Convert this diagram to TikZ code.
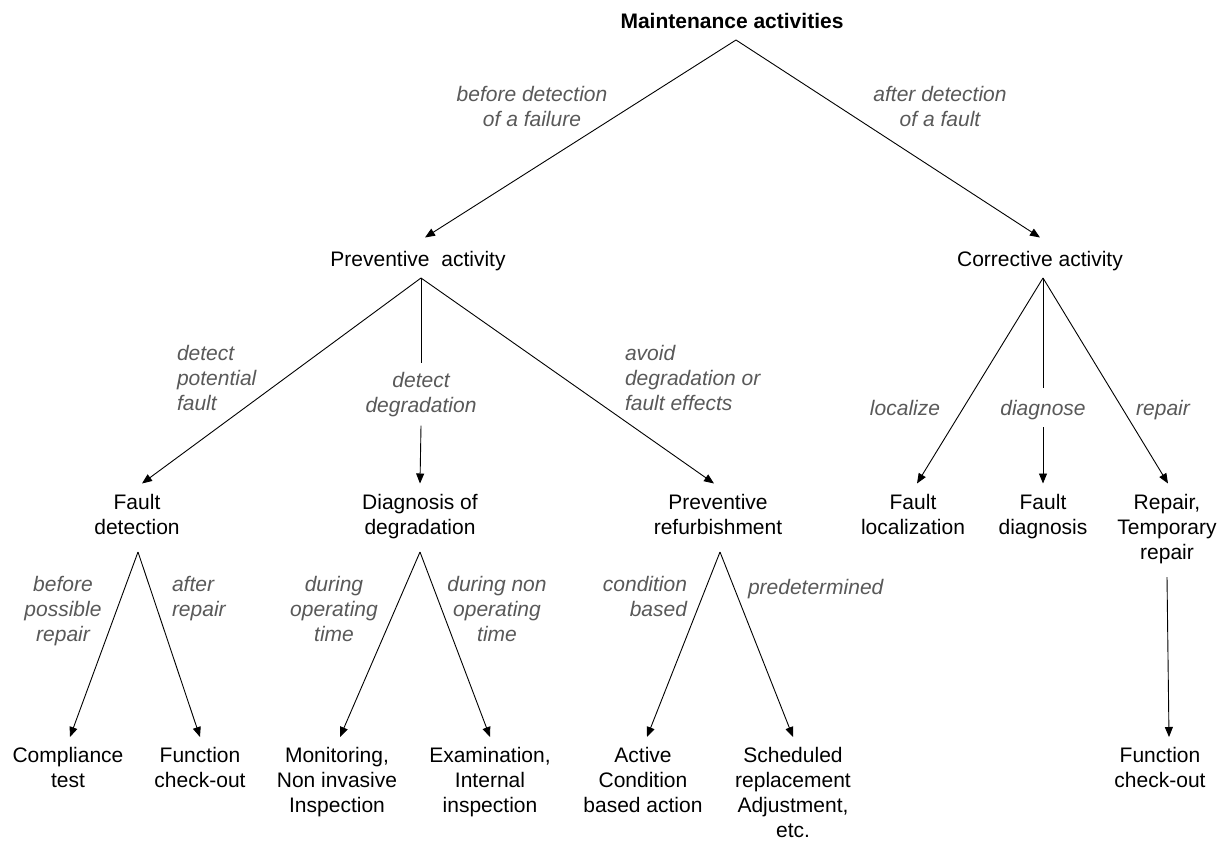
\documentclass[tikz,border=0pt]{standalone}
\usepackage{fontspec}
\setmainfont{Liberation Sans}
\usetikzlibrary{arrows.meta,calc}
\definecolor{lbl}{HTML}{595959}
\begin{document}
\begin{tikzpicture}[x=1pt,y=-1pt,
  every node/.style={inner sep=0pt, outer sep=0pt, align=center,
    execute at begin node=\strut, execute at end node=\strut},
  box/.style={anchor=north, text=black, font=\fontsize{21}{25}\selectfont},
  title/.style={anchor=north, text=black, font=\fontsize{21}{25}\selectfont\bfseries},
  lab/.style={anchor=north, text=lbl, font=\fontsize{21}{25}\selectfont\itshape},
  labl/.style={lab, anchor=north west, align=left},
  labr/.style={lab, anchor=north east, align=right},
  ln/.style={draw=black, line width=0.9pt},
  arr/.style={ln, -{Triangle[length=10pt,width=8pt]}}]
\fill[white] (0,0) rectangle (1229,846);
\useasboundingbox (0,0) rectangle (1229,846);

% main nodes
\node[title] (ma) at (732,10.5) {Maintenance activities};
\node[box] (pa) at (418,248.5) {Preventive~ activity};
\node[box] (ca) at (1040,248.5) {Corrective activity};
\node[box] (fd) at (137,494.5) {Fault\\detection};
\node[box] (dd) at (420,494.5) {Diagnosis of\\degradation};
\node[box] (pr) at (718,494.5) {Preventive\\refurbishment};
\node[box] (fl) at (913,494.5) {Fault\\localization};
\node[box] (fdi) at (1043,494.5) {Fault\\diagnosis};
\node[box] (rp) at (1167,494.5) {Repair,\\Temporary\\repair};
\node[box] (ct) at (68,747.5) {Compliance\\test};
\node[box] (fc1) at (200,747.5) {Function\\check-out};
\node[box] (mo) at (337,747.5) {Monitoring,\\Non invasive\\Inspection};
\node[box] (ex) at (490,747.5) {Examination,\\Internal\\inspection};
\node[box] (ac) at (643,747.5) {Active\\Condition\\based action};
\node[box] (sr) at (793,747.5) {Scheduled\\replacement\\Adjustment,\\etc.};
\node[box] (fc2) at (1160,747.5) {Function\\check-out};

% labels
\node[lab] (lbd) at (532,86.5) {before detection\\of a failure};
\node[lab] (lad) at (940,86.5) {after detection\\of a fault};
\node[labl] (ldp) at (177,345.5) {detect\\potential\\fault};
\node[lab] (ldd) at (421,372.5) {detect\\degradation};
\node[labl] (lav) at (625,345.5) {avoid\\degradation or\\fault effects};
\node[lab] (llo) at (905,397.5) {localize};
\node[lab] (ldi) at (1043,397.5) {diagnose};
\node[lab] (lre) at (1163,397.5) {repair};
\node[lab] (lbp) at (63,576.5) {before\\possible\\repair};
\node[labl] (lar) at (172,576.5) {after\\repair};
\node[lab] (ldo) at (334,576.5) {during\\operating\\time};
\node[lab] (ldn) at (497,576.5) {during non\\operating\\time};
\node[labr] (lcb) at (687,576.5) {condition\\based};
\node[labl] (lpd) at (748,576.5) {predetermined};

% branch points
\coordinate (a0) at (736,40);
\coordinate (a1) at (421,278);
\coordinate (a2) at (1043,278);
\coordinate (a3) at (138,552);
\coordinate (a4) at (420,552);
\coordinate (a5) at (720,552);
\coordinate (a6) at (1167,577);

% connectors
\draw[arr] (a0) -- ($(pa.north)+(7,-11)$);
\draw[arr] (a0) -- ($(ca.north)+(0,-11)$);
\draw[arr] (a1) -- ($(fd.north)+(5,-11)$);
\draw[ln] (a1) -- ($(ldd.north)+(0,-10)$);
\draw[arr] ($(ldd.south)+(0,5.5)$) -- ($(dd.north)+(0,-11)$);
\draw[arr] (a1) -- ($(pr.north)+(-4,-11)$);
\draw[arr] (a2) -- ($(fl.north)+(4,-11)$);
\draw[ln] (a2) -- ($(ldi.north)+(0,-9.5)$);
\draw[arr] ($(ldi.south)+(0,4.5)$) -- ($(fdi.north)+(0,-11)$);
\draw[arr] (a2) -- ($(rp.north)+(1,-11)$);
\draw[arr] (a3) -- ($(ct.north)+(2,-10.5)$);
\draw[arr] (a3) -- ($(fc1.north)+(0,-10.5)$);
\draw[arr] (a4) -- ($(mo.north)+(3,-10.5)$);
\draw[arr] (a4) -- ($(ex.north)+(0,-10.5)$);
\draw[arr] (a5) -- ($(ac.north)+(4,-10.5)$);
\draw[arr] (a5) -- ($(sr.north)+(0,-10.5)$);
\draw[arr] (a6) -- ($(fc2.north)+(9,-10.5)$);
\end{tikzpicture}
\end{document}
